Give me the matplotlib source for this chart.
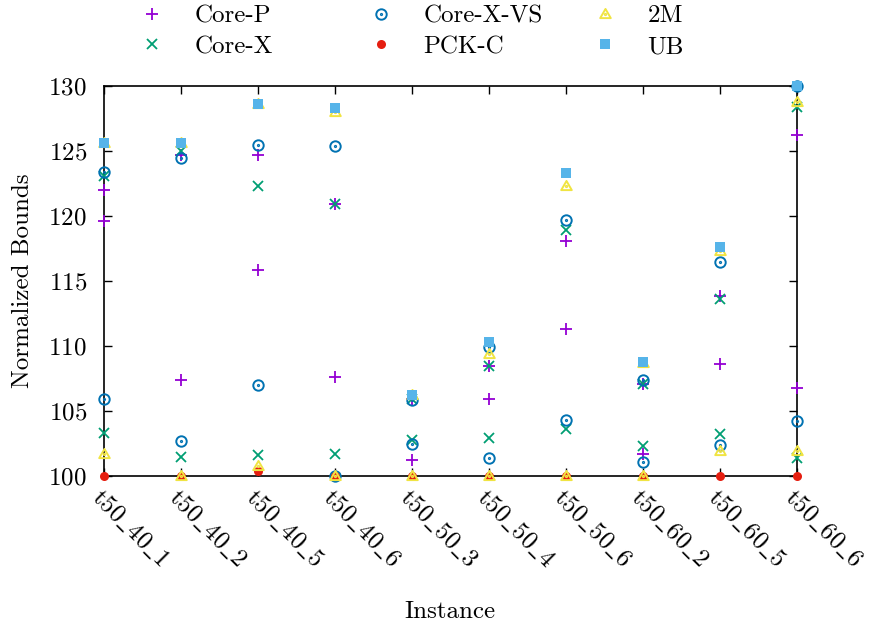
import numpy as np
import matplotlib
matplotlib.use("Agg")
import matplotlib.pyplot as plt
from matplotlib.path import Path
from matplotlib.lines import Line2D

plt.rcParams['font.family'] = ['cmr10', 'DejaVu Serif']
plt.rcParams['mathtext.fontset'] = 'cm'
plt.rcParams['axes.formatter.use_mathtext'] = True
plt.rcParams['font.size'] = 18

# data
instances = ['t50_40_1', 't50_40_2', 't50_40_5', 't50_40_6', 't50_50_3',
             't50_50_4', 't50_50_6', 't50_60_2', 't50_60_5', 't50_60_6']

core_p_1 = [122.0, 124.7, 124.7, 120.9, 105.9, 108.5, 118.1, 107.1, 113.85, 126.2]
core_p_2 = [119.6, 107.4, 115.85, 107.6, 101.2, 105.9, 111.3, 101.7, 108.65, 106.8]
core_x_1 = [123.1, 125.0, 122.3, 120.9, 105.9, 108.5, 118.9, 107.1, 113.6, 128.4]
core_x_2 = [103.3, 101.5, 101.6, 101.7, 102.8, 102.95, 103.6, 102.3, 103.2, 101.4]
core_xvs_1 = [123.4, 124.5, 125.5, 125.4, 105.85, 109.95, 119.7, 107.4, 116.5, 130.0]
core_xvs_2 = [105.9, 102.7, 107.0, 100.0, 102.5, 101.4, 104.3, 101.1, 102.4, 104.2]
pck_c = [100.0, 100.0, 100.4, 100.0, 100.0, 100.0, 100.0, 100.0, 100.0, 100.0]
two_m_1 = [125.6, 125.6, 128.6, 128.0, 106.2, 109.4, 122.3, 108.7, 117.3, 128.8]
two_m_2 = [101.7, 100.0, 100.8, 100.0, 100.0, 100.0, 100.0, 100.0, 101.9, 101.9]
ub = [125.6, 125.6, 128.6, 128.3, 106.2, 110.3, 123.3, 108.75, 117.6, 130.0]

# gnuplot-like open markers with a dot in the middle
def dotted(outline):
    dot = Path.unit_circle()
    dot = Path(dot.vertices * 0.12, dot.codes)
    return Path.make_compound_path(outline, dot)

tri = Path([(0, 1), (-0.95, -0.65), (0.95, -0.65), (0, 1)],
           [Path.MOVETO, Path.LINETO, Path.LINETO, Path.CLOSEPOLY])
circ_marker = dotted(Path.unit_circle())
tri_marker = dotted(tri)

series = [
    ('Core-P', [core_p_1, core_p_2], dict(marker='+', color='#9400D3', ms=8, mew=1.3)),
    ('Core-X', [core_x_1, core_x_2], dict(marker='x', color='#009E73', ms=6.5, mew=1.3)),
    ('Core-X-VS', [core_xvs_1, core_xvs_2], dict(marker=circ_marker, color='#0072B2', ms=7.5,
                                                 mew=1.4, mfc='none')),
    ('PCK-C', [pck_c], dict(marker='o', color='#E51E10', ms=6.5, mew=0)),
    ('2M', [two_m_1, two_m_2], dict(marker=tri_marker, color='#F0E442', ms=8, mew=1.4, mfc='none')),
    ('UB', [ub], dict(marker='s', color='#56B4E9', ms=6.5, mew=0)),
]

fig = plt.figure(figsize=(8.7, 6.27), dpi=100)
ax = fig.add_axes([0.119, 0.2408, 0.797, 0.622])
x = np.arange(len(instances))

handles = []
for name, vals, style in series:
    for v in vals:
        ax.plot(x, v, linestyle='none', clip_on=False, zorder=3, **style)
    handles.append(Line2D([], [], linestyle='none', label=name, **style))

ax.set_xlim(0, len(instances) - 1)
ax.set_ylim(100, 130)
ax.set_yticks(np.arange(100, 131, 5))
ax.set_xticks(x)
labels = [r'$\mathrm{' + s.replace('_', r'\_') + '}$' for s in instances]
ax.set_xticklabels(labels, rotation=-45, ha='left', va='top', rotation_mode='anchor')
ax.tick_params(direction='in', length=6, width=1, labelsize=18, top=True, right=True)
ax.tick_params(axis='y', pad=12)
ax.tick_params(axis='x', pad=7)
for s in ax.spines.values():
    s.set_linewidth(1.2)

ax.set_ylabel('Normalized Bounds', fontsize=18)
ax.yaxis.set_label_coords(-0.1, 0.5)
ax.set_xlabel('Instance', fontsize=18)
ax.xaxis.set_label_coords(0.5, -0.32)

# legend: three columns of two entries across the top
for col, left in enumerate([142, 371, 595]):
    fig.legend(handles=handles[2 * col:2 * col + 2], loc='upper left',
               bbox_to_anchor=(left / 870, 1 - 5 / 627), frameon=False, fontsize=18,
               handlelength=0.8, handletextpad=1.3, labelspacing=0.32,
               borderpad=0, borderaxespad=0)

fig.savefig('out.png', dpi=100)
